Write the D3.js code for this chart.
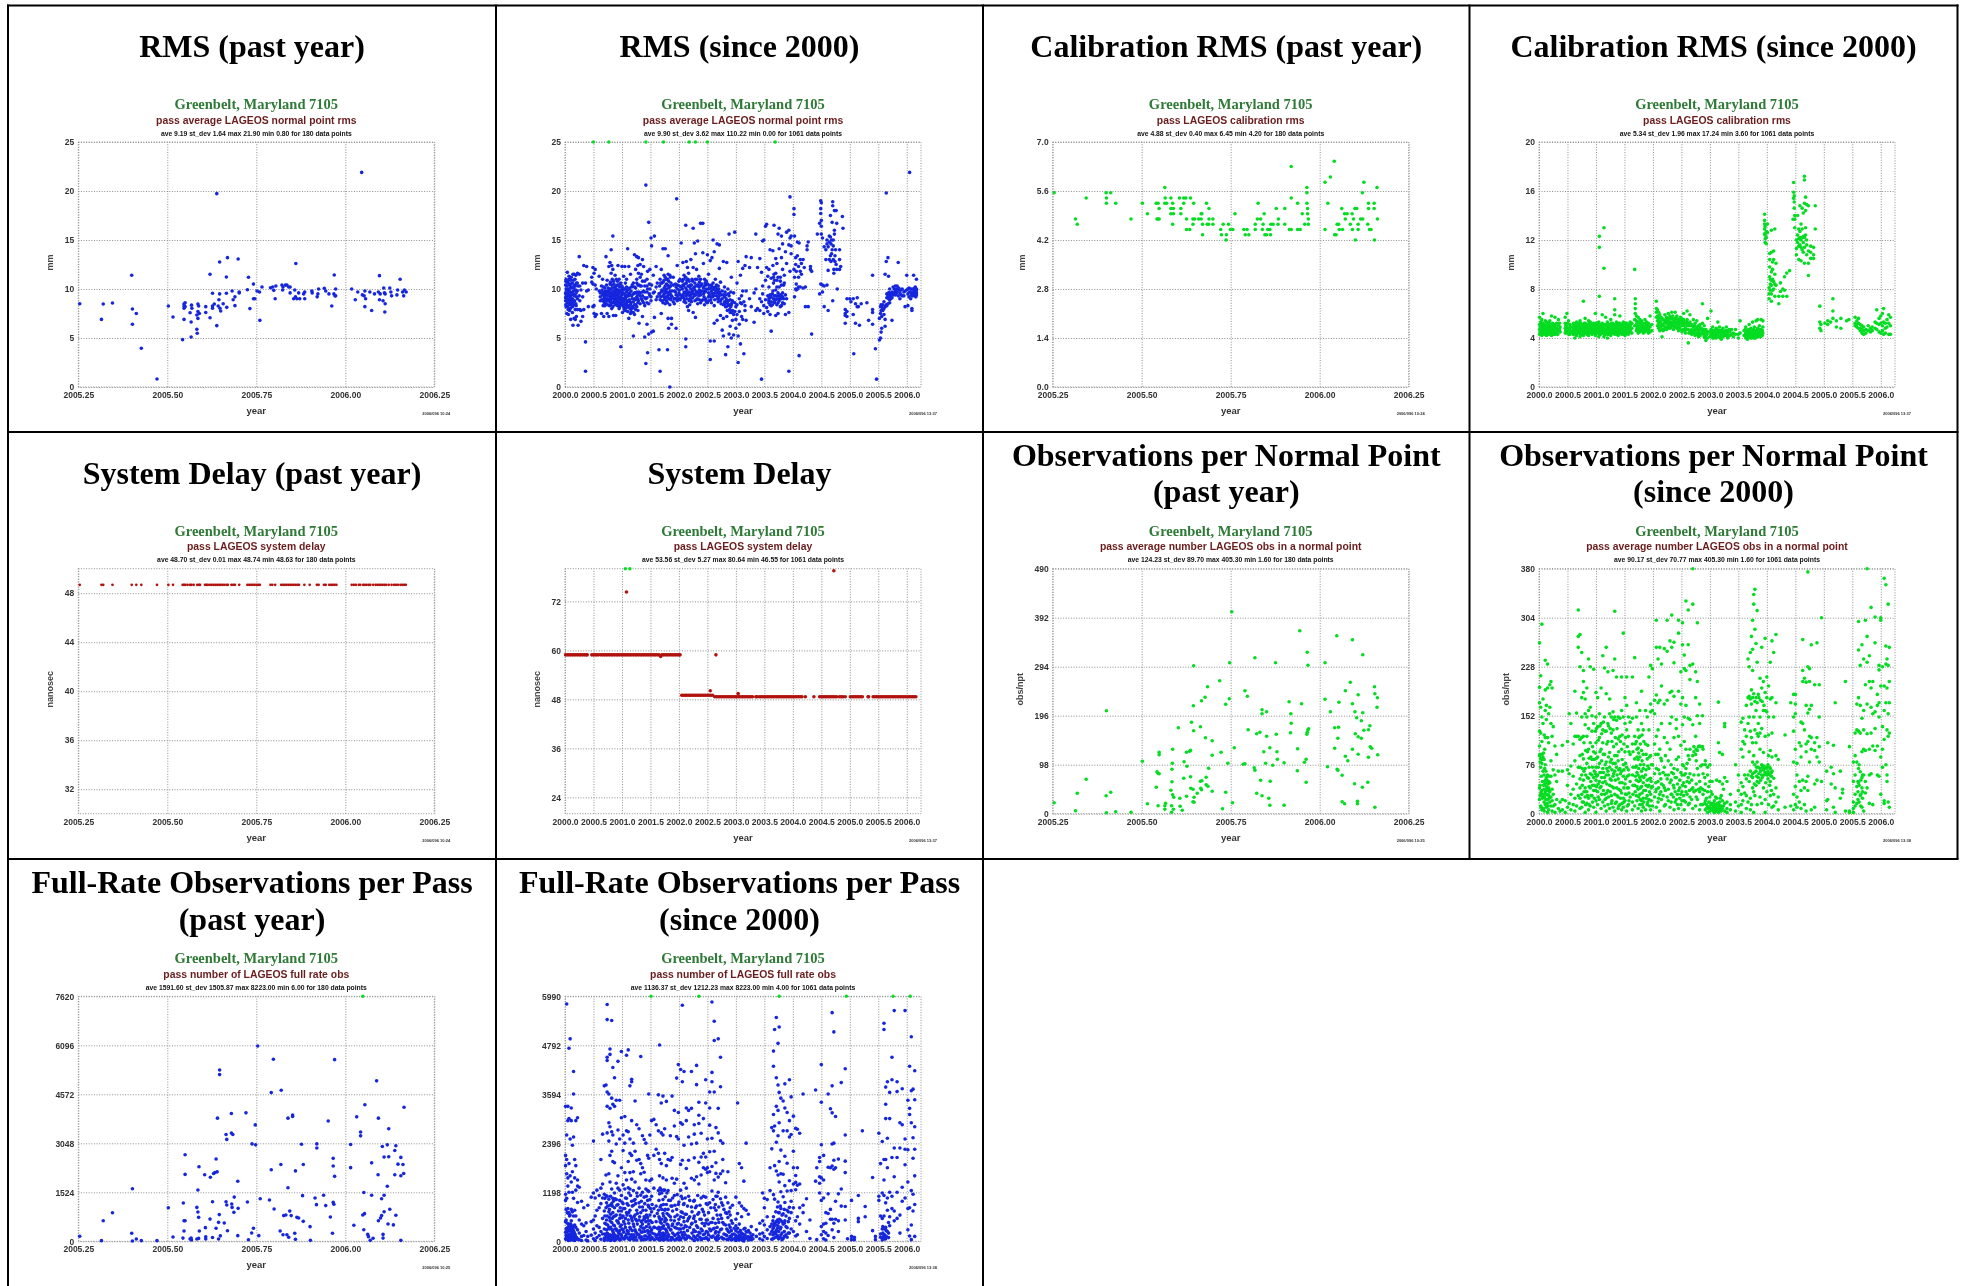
<!DOCTYPE html>
<html>
<head>
<meta charset="utf-8">
<script src="https://cdn.jsdelivr.net/npm/d3@7"></script>
<style>
  html, body { margin: 0; padding: 0; background: #fff; }
  svg { display: block; }
  .title { font-family: "Liberation Serif", serif; font-weight: bold; font-size: 32px; text-anchor: middle; fill: #000; filter: blur(0.35px); }
  .plot { filter: blur(0.7px); }
  .plot text { font-family: "Liberation Sans", Arial, sans-serif; }
  .grid line, .grid rect { stroke: #8f8f8f; stroke-width: 1; stroke-dasharray: 1 1.6; fill: none; }
  .grid path { display: none; }
</style>
</head>
<body>
<svg width="1965" height="1286"></svg>
<script>
// values: rows are [years after base, y, y, ...]
const pastBase = 2005;
const sinceBase = 2000;
const pastYearTicks = [2005.25, 2005.5, 2005.75, 2006, 2006.25];
const sinceTicks = [2000, 2000.5, 2001, 2001.5, 2002, 2002.5, 2003, 2003.5, 2004, 2004.5, 2005, 2005.5, 2006];

const rmsPast = [[.254,8.5],[.315,6.9],[.32,8.47],[.346,8.57],[.4,11.4],[.402,7.96,6.4],[.413,7.5],[.427,3.95],[.471,.82],[.503,8.27],[.516,7.14],[.543,4.83],[.547,6.9,8.47,8.27,8.03],[.55,8.6,8.2],[.564,7.58],[.567,6.63,5.1],[.568,8.35],[.569,8.03],[.583,5.9,7.35],[.584,5.48],[.586,7,8.47,7.7],[.588,8.27],[.59,7.5],[.608,7.6,8.2],[.62,7.07,11.5],[.627,9.56,8.27,8.03],[.632,8.47],[.639,6.26,19.73],[.643,8.27],[.645,8.9],[.647,9.5,12.76],[.648,8.03],[.65,7.76],[.657,8.5],[.666,11.22,9.56],[.667,8.13],[.669,13.2],[.682,9.8],[.685,8.9],[.69,9.2,8.3],[.699,13.06],[.702,9.7,9.6],[.725,9.93],[.728,11.2],[.732,8],[.742,10.5,9],[.746,9],[.752,9.8],[.759,9.7],[.76,6.8],[.766,10.2],[.79,10.13],[.796,10.2],[.799,9.86],[.803,9],[.805,10.3],[.822,10.4],[.824,9.9],[.825,10.2],[.832,10.4],[.836,10.4],[.841,10.2],[.845,10.2,9.6],[.855,9],[.858,9.9],[.86,9.2],[.861,12.6],[.864,9],[.869,9.6],[.872,9],[.883,9.5],[.886,9.7,9],[.906,9.8],[.907,9.6],[.921,9.2],[.923,9.5],[.925,10],[.941,10.07],[.945,9.8],[.954,9.5],[.962,8.27],[.968,9.5],[.969,11.43],[.971,9.3],[.973,10,9.3],[1.018,10],[1.028,8.9],[1.035,9.7],[1.046,21.9],[1.048,9.4],[1.053,9.3],[1.055,9.8,8.2],[1.057,9],[1.069,9.7],[1.074,7.8],[1.082,9.5],[1.093,9.7],[1.096,11.36,8.9],[1.098,9.5],[1.106,8.8],[1.108,10.1],[1.11,9.6],[1.111,7.65],[1.112,8.5,9.5],[1.125,10.1],[1.128,9.7],[1.13,9.3],[1.145,9.4],[1.147,9.9],[1.154,11],[1.161,9.7],[1.164,9.3],[1.166,9.9],[1.171,9.7]];

const rmsSince = [[.01,9.6,8.8,10.4,9.1],[.02,9.2,11,8.2,10],[.03,9.9,7.5,9.4],[.04,10.7,8.6,11.7,9],[.05,10,8.2,9.6],[.06,10.9,8.9,7.4,9.3],[.07,9.9,11.3,8.5],[.08,9.3,10.4,7.8,11],[.09,9,10.1,8.4],[.1,9.7,10.9,6.9,8.8],[.11,8.9,9.4,11.2],[.12,8.3,10.1,9.6],[.13,9,7.6,10.6],[.14,6.3,11.5,8.9],[.15,9.8,10.9,8.4],[.16,9.3,11.5,7],[.17,8.8,10.4],[.18,7.9,10.3,6.9],[.19,9.9,8.5,11.4],[.2,7.2,10.6,9.2],[.22,7.9,9,11.6],[.23,6.3,10.3],[.25,11.5,9.3,13.3],[.26,8.8,7.9,10.3],[.28,6.7,9.9,7.8],[.31,7.2,10.6,9.2],[.33,7.9,12.4],[.36,10.6,4.6,1.6],[.38,9.8,12.3],[.41,9.9,8.2],[.47,11.2,10.7],[.49,8.2,12.2,10.5],[.51,7.5,11.6,8.3],[.53,7.2,10.4,12],[.55,10,7.4],[.6,11.3,9.8],[.62,9.6,9.2,8.8],[.64,7.5,10.3],[.66,8.8,11,9.4],[.68,7.2,9,10.2],[.7,10.1,8.3,9.5],[.72,9.4,13.3,8.8],[.74,7.5,10.9,9],[.75,8.4,9.8,9.3],[.77,12.3,7.2,9.6],[.79,10.5,8.7,12.7],[.8,9.2,8.4,10],[.81,11.6,14,9.5],[.82,12.4,8,9],[.83,10.1,9.1,11],[.84,12,15.4,8.6],[.85,10.8,7.3,9.5],[.87,9.4,8.7,10.2],[.88,11.4,10,9],[.89,7.3,9.8,8.5],[.9,9,11,10.3],[.92,8.3,10.4,9.4],[.93,9.3,12.4,8.8],[.95,8,11,9.5],[.96,9.7,10.2,8.5],[.98,4.1,8.5,9.2],[1,10.3,9,12.3],[1.01,7.6,8.7,9.6],[1.03,11.3,8.2,9.9],[1.05,12.3,9.1,8.5],[1.06,10,7.8,9.3],[1.08,8.6,11,9.7],[1.1,14.1,9.4,8.3],[1.12,7,8.2,12.3],[1.13,10.1,8.9,9.5],[1.15,7.5,11.5,8.4],[1.17,9.3,8,10.2],[1.2,5.2,8.1,10.6],[1.22,13.5,7.4,9],[1.24,12,8.4,9.6],[1.26,13.3,10.6,9.2],[1.28,12.4,7.8,9],[1.29,11.6,13.2,8.8],[1.3,6.5,9.7,10.4],[1.32,12.5,8.5,9.3],[1.34,10.3,11.5,9],[1.36,7.2,9.3,13],[1.38,12.3,8.6,9.8],[1.4,5.1,8.3,10.3],[1.42,9,20.6,2.4],[1.44,6.4,9.1,11],[1.45,3.5,11.8,10],[1.47,16.8,8.5,5.4],[1.49,12,10,9.3],[1.51,15.2,9.2,8.8],[1.52,14.4,5.6,10.4],[1.55,5.7,11.4,9.6],[1.57,9.7,15.4,7.1],[1.6,10.2,12.3,8.9],[1.62,9.2,10.6],[1.65,3.8,9.5],[1.67,1.6,8.9,11],[1.68,10.6,9.2],[1.69,9.7,12,7.5],[1.72,14.1,9.3,8.6],[1.74,11.4,10.1,9.5],[1.76,8.5,14.1,9.8],[1.78,11,9.6,8.8],[1.8,3.8,10.4,9.2],[1.81,13.4,7,11.5],[1.82,9,6,10.8],[1.84,8.4,0,9.6],[1.85,11.2,9.8,10.3],[1.87,7,6.4,9.2],[1.9,10.4,8.7,11.2],[1.92,9,9.8,8.5],[1.95,6,10.2,9.4],[1.96,19.2,9],[1.97,12.4,10,8.8],[2,9.6,10.8,9],[2.02,11,9.4,8.9],[2.04,14.7,9.1,10.2],[2.07,10.4,12.7,9.4],[2.09,9.7,11.4,8.7],[2.12,16.5,8.6,4.9,4.1],[2.13,12.8,10.6,9.7],[2.15,8.2,9.5,12.2],[2.17,11.6,7.8,9.4],[2.19,10.2,9,8.4],[2.21,13,8.9,10],[2.23,9.7,11],[2.25,16.2,12.2,7.6],[2.27,9.3,14.7,10.2],[2.29,11,13.6,7.1],[2.31,9.7,12,8.9],[2.33,14.9,8.5,10.4],[2.35,9.3,10.2,11.3],[2.38,16.7,9.7,8.6],[2.42,16.7,13.7,8.9],[2.43,10.1,12.6,9.5],[2.45,8.4,11,9.8],[2.47,9.8,10.4,9],[2.5,13.5,8.6,10.5],[2.52,9.2,11.5,10],[2.55,2.8,4.7,12.9],[2.56,9.2,10.1,8.9],[2.58,10.1,13.2,9.6],[2.6,15,9.5,10.6],[2.62,13.8,8.3,6.5,4.7],[2.64,9.6,11,10.2],[2.67,14.6,6.8,10],[2.69,8.7,9.6,10.3],[2.71,14.5,12.1,9.5],[2.73,7.3,10.7,8.8],[2.76,5.8,9,9.8],[2.78,7,12.8,5.2],[2.8,10.2,8.7,9.2],[2.82,3.3,9.4,8.2],[2.84,12.7,7.2,8.8],[2.86,10,4.1,8.3],[2.88,5.4,15.6,9.3],[2.9,7.6,6.2,8.9],[2.92,5,11.2,8.4],[2.94,8.8,6.8,7.8],[2.96,5.3,9.6,7.4],[2.98,7.7,15.8,8.6],[3,6,8.2,6.9],[3.02,10.6,7.4,8.4],[3.04,12.8,2.5,5.2],[3.06,9,7.7,6.4],[3.08,11.4,4.4,8.6],[3.1,8.5,9.3,7.2],[3.12,9.8,12.1,6.9],[3.14,3.4,8.7],[3.16,12.4,8.3,7.8],[3.18,13.3,9.8,6.8],[3.24,12.2,9],[3.27,13.2,8.2],[3.32,6.6,9.6],[3.35,15.6,10,7.8],[3.38,12.2,8],[3.42,7.8,13.1,9],[3.45,8.7,.8,11.7],[3.47,10.3,14.9,9.5],[3.49,7.5,15,8.3],[3.52,16.4,8.9,10.9],[3.54,12.2,16.6,8.1],[3.56,9.3,11.3,7.7],[3.58,10.2,12,8.6],[3.6,9.1,14,7.4],[3.62,5.7,11.1,8.3],[3.65,9.8,12.4,13.9],[3.67,16.5,8.7,11.5],[3.7,9.3,13.1,7.3],[3.72,10.2,8.4,12.6],[3.74,9.6,15.6,7.5],[3.76,16.2,14.1,9],[3.78,11.2,9.4,8.2],[3.8,15.4,13.2,9.3],[3.82,12,14.6,9.2],[3.85,8.5,11.4,10.6],[3.87,13.8,9.4,7.4],[3.89,15.8,12.6,9],[3.93,1.6,16,14.5,7.6],[3.95,19.4,15.2,11.8],[3.97,13.6,14.4,15.4],[4.02,18.2,17.6,12],[4.03,15.4,11.2,9.2],[4.05,13.2,12.5,10],[4.06,11.8,10.5,9.9],[4.08,14.8,10,13.4],[4.1,12.3,11.2,10.2],[4.11,3.2,14.7],[4.13,13,10.2,11.8],[4.15,11.5,12.6],[4.18,13,10.1],[4.2,12.2],[4.22,10.2,8.2],[4.25,14.4,14],[4.27,14.8,8.2],[4.31,12.3,12],[4.33,5.4,11.8],[4.43,15.6],[4.47,16.7,9.5],[4.49,19,18.2,17.7,10.5],[4.5,18.8,17,16.4,15.6],[4.52,10.4,9.7,15.2],[4.55,14.3,8.2,10.3],[4.58,13,14],[4.6,15,10.4,14.6],[4.62,14.3,7.8,11.9],[4.64,14.8,13,15.4],[4.66,17.5,15.3,13.4],[4.67,14.6,12.8],[4.68,13.6,15],[4.69,16.8,14],[4.7,18.9,18.5,8.8],[4.71,15,14.4,13],[4.72,12,11.6],[4.73,18,16,15.6],[4.74,13.4,12.8],[4.75,14],[4.76,12.5,18],[4.77,16.7,12],[4.78,10],[4.82,13,12,14],[4.84,12.3],[4.87,17.4],[4.88,16.2],[4.92,7.3,7.5,7.9,6.5],[4.95,7.7,7.2,9],[5,9],[5.02,8.7],[5.06,7.4,9],[5.07,3.4],[5.1,6.5,8.5],[5.13,8.2,9.1],[5.15,8.2],[5.17,6.3],[5.2,8.5],[5.3,8.6],[5.33,6.8],[5.4,6.4,7.6,7.9,11.4],[5.45,3.9],[5.47,.8],[5.52,4.8,7],[5.54,5,7.5,8.2],[5.55,5.6,7.8,8.4],[5.56,6,8.2,7.2],[5.58,8.4,7.8,8],[5.6,8,7.4,8.7],[5.62,8.2,6.9,11.5,6.2],[5.64,19.8,12.8,8.4],[5.65,8.3,9.1,9.5],[5.67,13.2,8.5],[5.68,9.6,11.3,9],[5.7,9.3,10,9.6],[5.72,9,9.5],[5.74,6.8,9.7],[5.76,10.2,9.4],[5.78,9.6,10],[5.8,9.8,10.3,9.4],[5.83,9.7,10.3],[5.85,9.3,12.7],[5.88,9,9.6],[5.92,10,9.3],[5.95,9.3,9.7],[5.97,9.8,8.2],[6,9.9,11.4],[6.02,8.3,9.5,10],[6.05,9.7,21.9],[6.07,10,9],[6.09,9.5,8,7.8],[6.12,11.4,9.6],[6.13,9.8,9.3],[6.15,9.9,9.4,10.2],[6.16,9.7,9.2],[6.17,11,10,9.6]];
// extra passes in the solid part of the cloud
const rmsSinceCloud = [[.015,8.4,9.5,10.8],[.035,8.9,10.3],[.055,9.4,10.6,7.9],[.075,8.7,9.7],[.095,9.2,10.5,8],[.115,8.6,10.2],[.135,9.5,10.2,8.2],[.155,8.7,10.1],[.175,9.4,11],[.195,8.3,9.6],[.215,9.8,10.6],[.65,8.9,9.9],[.67,8.3,9.7],[.69,9.2,8.6],[.71,9,9.8,8.8],[.73,8.5,9.7,10.4],[.76,8.8,9.4,10.1],[.78,8.3,9,9.9],[.8,8.9,9.6,10.7],[.82,8.6,9.3,10.4],[.84,8.2,9.1,9.8],[.86,8.9,9.5,10.5],[.88,8.4,9.2,9.7],[.9,8.7,9.5,10],[.92,8.9,9.6,10.8],[.94,8.6,9.1,9.9],[.96,8.2,9,10.5],[.98,8.8,9.8,10.6],[1,8.4,9.4,10],[1.02,8.3,9,10.1],[1.04,7.9,8.8,9.5],[1.06,8.4,9,10.6],[1.08,8.1,9.2,10.2],[1.1,7.7,8.8,9.9],[1.12,8.7,9.3,10],[1.14,8,8.7,9.6],[1.16,7.7,8.6,9.8],[1.18,8.2,9,10.4],[1.2,7.6,8.7,9.5],[1.22,8.4,9.6,10.2],[1.24,7.9,8.9,10.1],[1.26,8.2,9.7,11],[1.28,8.6,9.4,10.4],[1.32,9.6,10.3,11.2],[1.36,8.8,9.7,10.8],[1.4,9.1,9.7,10.8],[1.44,8.6,9.7,10.3],[1.48,9.5,10.5],[1.66,9.5,10.3],[1.7,8.8,9.9,10.6],[1.72,9.8,10.7],[1.74,8.9,9.2,10.9],[1.76,9.1,10.3,11.2],[1.78,9.2,10,10.5],[1.8,8.6,9.7,11],[1.82,9.4,10.1],[1.84,9,10.2,11.4],[1.86,8.9,9.4,10.6],[1.88,9.2,9.8],[1.94,9,9.7,10.5],[1.98,9.3,10.4],[2.01,9.9,10.3],[2.06,9.3,10,10.8],[2.08,9.1,10.3,11],[2.1,8.9,9.6,10.5],[2.12,9.3,10.1,11.2],[2.14,9,9.9,10.9],[2.16,9.4,10.3,11],[2.18,8.8,9.7,10.8],[2.2,9.3,10.4],[2.22,9.5,10.4,8.7],[2.24,9.1,9.8,10.8],[2.26,9.5,10.1],[2.28,8.8,9.9,10.6],[2.3,9.4,10.3],[2.32,9,9.7,11],[2.34,9.6,10.4],[2.36,8.9,9.9,10.7],[2.38,9.4,10.3,11],[2.4,8.8,9.8,10.5],[2.44,9.2,10.3],[2.46,8.9,9.7,10.6],[2.48,8.7,10,10.8],[2.52,8.8,9.6,10.4],[2.54,9.4,10.1],[2.57,8.6,9.8,10.4],[2.59,9.2,10.2],[2.61,9.3,10],[2.63,8.9,9.9],[2.66,9.3,10.4],[2.68,9,9.8],[2.7,9.2,10],[2.72,8.9,9.7],[2.74,8.5,9.4],[2.78,8.4,9.4],[2.81,8.5,9.7],[2.83,8.2,9],[2.85,7.8,8.6],[2.87,8.8,9.5],[2.89,7.9,8.4],[2.91,8.2,9.7],[2.93,7.6,8.6],[3.58,9,8.8],[3.6,8.4,9.4],[3.62,9.2,8.7],[3.64,9.5,8.4],[3.66,9,10.6,11.2],[3.68,9.3,8.6,10.9],[3.7,8.9,9.9,11.6],[3.72,9,10.9],[3.74,8.6,9.3,11.2],[3.76,8.8,10.2],[3.78,9.1,10.8],[3.8,8.3,9,10.4],[3.82,8.6,9.6],[3.84,9,10.4],[5.67,9.1,9.4],[5.7,8.9,8.6],[5.74,9.1,9.4],[5.82,9.6,10],[5.86,9.9,10.1],[5.9,9.4,9.9],[6.04,9.2,10.1],[6.08,9.7,9.4],[6.1,9.3,10],[6.14,9.6,10.1],[6.17,9.4,9.9]];
const rmsSinceOver = [.5, .77, 1.42, 1.73, 2.18, 2.29, 2.5, 3.69];

const calPast = [[.254,5.55],[.314,4.8],[.319,4.65],[.344,5.4],[.4,5.55],[.401,5.4,5.25],[.413,5.55],[.427,5.25],[.47,4.8],[.502,5.25],[.516,4.95],[.541,5.25],[.546,5.25,4.8],[.543,4.8],[.549,4.8,5.1],[.565,5.7,5.25],[.566,5.4],[.57,5.25],[.582,5.4,5.1,4.95],[.587,5.25,4.65],[.589,5.1,4.95],[.606,5.4],[.61,5.1,4.95],[.618,5.25,5.4],[.624,5.4],[.637,5.4],[.626,4.8,4.5],[.635,4.5],[.644,4.8,4.65],[.646,5.25],[.649,4.8],[.66,4.8],[.667,4.8,4.95],[.671,4.65,4.35],[.669,4.95],[.682,5.25],[.689,5.1],[.684,4.65],[.688,4.65],[.689,4.8],[.7,4.8,4.65],[.722,4.5],[.724,4.35],[.729,4.65],[.738,4.35],[.737,4.2],[.744,4.65],[.749,4.5],[.756,4.5],[.762,4.95],[.787,4.5],[.791,4.35],[.796,4.5],[.801,4.35],[.819,4.65,4.5],[.827,5.25],[.825,4.8],[.834,4.8],[.841,4.65],[.839,4.5],[.844,4.95],[.846,4.35],[.851,4.35],[.854,4.5],[.86,4.5],[.862,4.35],[.863,4.65],[.869,4.65],[.878,5.1],[.883,4.65],[.884,4.8],[.902,5.1,4.65],[.915,4.5],[.92,4.5,6.3,5.4],[.938,5.25,4.5],[.945,4.5],[.951,4.95],[.958,4.65],[.964,5.7,5.55,5.25],[.966,5.1,4.95],[.968,4.8,4.65],[1.015,5.85,4.5],[1.023,5.25],[1.03,6],[1.041,6.45],[1.042,4.35],[1.046,4.35],[1.049,4.65],[1.053,4.65],[1.055,4.5],[1.062,5.1],[1.064,4.5],[1.07,4.95],[1.072,4.8],[1.077,4.95],[1.086,4.65],[1.091,4.95],[1.092,4.5],[1.095,4.8],[1.099,5.1],[1.104,5.1],[1.1,4.2],[1.108,4.65,4.5],[1.115,4.8],[1.121,4.8],[1.12,5.55],[1.124,5.85],[1.135,4.65],[1.137,5.25,5.1],[1.14,4.5],[1.144,4.5],[1.153,5.25,5.1],[1.154,4.2],[1.161,5.7],[1.162,4.8]];

const calSince = [[.01,4.3,4.7,5.1,5.7],[.03,4.5,4.9,5.3],[.05,4.2,4.6,5,5.5],[.07,4.4,4.8,5.2,6],[.09,4.3,4.7,5.1],[.11,4.5,4.9,5.4],[.13,4.2,4.6,5,5.3],[.15,4.4,4.8,5.2],[.17,4.3,4.7,5.1],[.19,4.5,4.9,5.4],[.22,4.2,4.6,5,5.8],[.24,4.4,4.8,5.2],[.26,4.3,4.7,5.1],[.28,4.5,4.9,5.7],[.31,4.4,4.8,5.2],[.34,4.6,5,5.5],[.37,4.5,4.9],[.46,4.4,4.8,5.2,5.7],[.49,4.6,5,6],[.52,4.3,4.7,5.4],[.55,4.5,4.9],[.6,4.3,4.7,5.1],[.63,4,4.5,4.9],[.66,4.2,4.6,5,5.3],[.69,4.4,4.8,5.2],[.72,4.1,4.5,4.9,5.4],[.75,4.3,4.7,5.1],[.78,4.2,4.6,5,7],[.81,4.4,4.8,5.2,5.6],[.84,4.3,4.7,5.1],[.87,4.2,4.6,5,5.4],[.9,4.5,4.9,5.3],[.93,4.3,4.7,5.1],[.96,4.4,4.8,5.2],[.99,4.2,4.6,5,6],[1.02,4.4,4.8,5.2],[1.05,4.1,4.5,4.9,5.3],[1.06,11.4,12.3,7.4],[1.08,4.3,4.7,5.1],[1.11,4.4,4.8,5.2,5.9],[1.14,4.1,4.5,4.9,13,9.7],[1.17,4.3,4.7,5.1,5.7],[1.2,4,4.5,4.9,5.3],[1.23,4.3,4.7,5.1],[1.26,4.2,4.6,5,5.5],[1.29,4.4,4.8,5.2],[1.33,4.3,4.7,5.1,6.3,7.2,5.9],[1.36,4.5,4.9,5.3],[1.39,4.2,4.6,5],[1.42,4.4,4.8,5.2,5.8],[1.45,4.3,4.7,5.1],[1.48,4.5,4.9,5.3],[1.51,4.2,4.6,5],[1.54,4.4,4.8,5.2],[1.57,4.3,4.7,5.1],[1.6,4.5,4.9,5.3],[1.63,4.4,4.8,5.2],[1.68,9.6,5,5.5],[1.69,7.2,6.8,6.4,6],[1.71,4.6,5,5.4,5.8],[1.74,4.4,4.8,5.3,5.7],[1.77,4.5,4.9,5.5],[1.8,4.6,5,5.4],[1.83,4.4,4.8,5.2],[1.86,4.5,4.9,5.5],[1.89,4.6,5,5.3],[1.92,4.4,4.8,5.2],[1.95,4.5,4.9,5.8],[1.98,4.6,5.1],[2.06,7,6.4,6.1,5.7],[2.08,6.3,5.8,5.4,5],[2.1,6.1,5.6,5.2,4.8],[2.12,5.9,5.4,5,4.6],[2.14,5.7,5.3,4.9],[2.16,5.6,5.1,4.7,4.1],[2.18,5.5,5,4.6],[2.21,5.4,5.9,4.9],[2.24,5.7,5.2,4.7],[2.27,6,5.5,5],[2.3,5.8,5.3,4.8],[2.33,6.1,5.6,5.1],[2.36,5.5,5,4.7],[2.39,6.1,5.6,5.2],[2.42,5.8,5.3,4.8],[2.45,5.5,5.1,4.6],[2.48,5.7,5.2,4.7],[2.51,5.4,5,4.5],[2.54,6,5.5,5],[2.57,5.3,4.8,4.4],[2.6,6.2,5.5,5],[2.62,3.6,4.7,5.2],[2.65,5.9,5.3,4.6],[2.68,5.1,4.7,4.3],[2.71,5.5,4.9,4.4],[2.74,5.2,4.7,4.2],[2.77,5.4,4.9,4.4],[2.8,5,4.5,4.1],[2.83,5.1,4.7,4.2],[2.87,6.8,5.2,4.6],[2.9,5,4.5,4.1],[2.93,4.7,4.2,3.8],[2.96,5.6,4.5,4],[3.02,6.2,4.7,4.3],[3.05,4.9,4.4,4],[3.08,4.6,4.2],[3.11,4.8,4.3,4],[3.14,5.3,4.5,4.1],[3.17,4.9,4.4],[3.2,4.6,4.2,3.9],[3.23,4.8,4.4,4.1],[3.26,4.5,4.2],[3.29,4.9,4.4],[3.32,4.6,4.1],[3.35,4.5,4.2],[3.38,4.7,4.3],[3.41,4.4,4.1],[3.45,4.7,4.3],[3.5,4.3,4],[3.53,5.4,4.4],[3.6,4.6,4.2],[3.63,4.9,4.4,4],[3.66,4.6,4.2,3.9],[3.69,5.1,4.5,4.1],[3.72,4.8,4.3,4],[3.75,5.3,4.6,4.2],[3.78,4.9,4.4,4],[3.81,5.4,4.6,4.2],[3.84,5.5,4.8,4.3],[3.87,5,4.5,4.1],[3.9,5.5,4.7,4.3],[3.93,5.4,4.9,4.4],[3.96,14.1,13.6,13.3,12.9,12.5],[3.97,12.1,11.8,13.1,12.4],[3.99,11.7,12.7,12.2],[4.01,13.3,12.6],[4.04,8.1,7.6,7.2],[4.05,10.9,10.4,9.8,9],[4.06,8.8,8.4,7.9],[4.08,12.8,11,9.4,8.7,8.3,7.6,7],[4.1,10.2,9.6,8.8,7.9],[4.12,11.1,10.4,8.6,8],[4.14,12.9,9.2,8.4,7.4],[4.16,10.1,8.3],[4.21,7.4,6.8],[4.24,8.5,7.8],[4.28,8,7.4],[4.31,9,7.9],[4.35,9.3,7.4],[4.4,9.5],[4.46,13.7],[4.47,16.7,15.9,15.4],[4.48,15.6,15.1,14.6],[4.49,14,13.7,13],[4.52,10.8,12,11.3],[4.54,14,12.4,11.8],[4.56,12.9,12.1,11.5,10.4],[4.58,14.8,12.7,12.2,11.6],[4.6,13.3,12,11.4,10.3],[4.62,14.6,12.9,12.2,11.2],[4.64,14.2,12.3,11.8,11],[4.66,17.2,16.9,15,12.2,11.4,10.1],[4.68,15.5,14.4,13,12.4],[4.7,14.9,12,11.6,10.8],[4.73,14.8,11.1,9.1,10.1],[4.77,11.5,11,10.5],[4.82,11.4,10.8,10.5],[4.85,14.8,12.9],[4.93,6.6,5.3,4.8],[4.95,5.1,4.6],[5.02,5.2],[5.07,5.4,5.1],[5.12,5.3],[5.16,7.2,6.2,5.6],[5.22,5.4,4.9],[5.3,4.8,5.6],[5.4,5.4],[5.44,5.5],[5.55,5.2,5,5.7],[5.58,5.4,5.1,4.9],[5.61,5.6,5.2,4.8],[5.64,5.1,4.8,4.6],[5.67,5,4.7,4.4],[5.7,4.9,4.6,4.3],[5.74,4.7,4.4],[5.78,5,4.6],[5.82,4.8,4.5],[5.85,4.9,4.6],[5.9,5.3,4.8],[5.93,6.3,5.2,4.7],[5.97,5.6,5.1,4.5],[6,5.8,5.2,4.4],[6.03,6,5,4.6],[6.05,6.4,5.3,4.3],[6.08,5.2,4.8,4.4],[6.11,5.5,4.9],[6.14,5.9,5.2,4.3],[6.17,5.7,5,4.3]];
const calSinceBand = [[.02,4.5,4.9],[.06,4.4,4.8,5.2],[.1,4.5,4.9],[.14,4.4,4.8],[.18,4.5,4.9,5.2],[.21,4.4,4.8],[.25,4.5,4.9],[.29,4.3,4.7,5.1],[.33,4.3,4.7],[.36,4.7,5.2],[.47,4.6,5],[.5,4.4,4.8,5.2],[.54,4.3,4.7,5.1],[.58,4.5,4.9],[.61,4.5,4.9,5.2],[.64,4.3,4.7,5.1],[.67,4.4,4.8],[.7,4.6,5],[.73,4.3,4.7,5.2],[.76,4.5,4.9],[.79,4.4,4.8,5.2],[.82,4.6,5],[.85,4.5,4.9],[.88,4.4,4.8,5.2],[.91,4.7,5.1],[.94,4.5,4.9],[.97,4.6,5],[1,4.4,4.8,5.2],[1.03,4.6,5],[1.06,4.3,4.7,5.1],[1.09,4.5,4.9],[1.12,4.6,5],[1.15,4.3,4.7,5.1],[1.18,4.5,4.9],[1.21,4.3,4.7,5.1],[1.24,4.5,4.9],[1.27,4.4,4.8,5.2],[1.3,4.6,5],[1.34,4.5,4.9],[1.37,4.3,4.7,5.1],[1.4,4.4,4.8,5.2],[1.43,4.6,5],[1.46,4.5,4.9],[1.49,4.3,4.7,5.1],[1.52,4.4,4.8,5.2],[1.55,4.6,5],[1.58,4.5,4.9],[1.61,4.7,5.1],[1.72,4.8,5.2],[1.75,4.6,5],[1.78,4.7,5.2],[1.81,4.8,5.2],[1.84,4.6,5],[1.87,4.7,5.2],[1.9,4.8,5.2],[1.93,4.6,5],[2.2,5.2,4.7],[2.23,5.5,4.9],[2.26,5.3,4.8],[2.29,5.6,5.1],[2.32,5.3,4.9],[2.35,5.8,5.2],[2.38,5.4,4.9],[2.41,5.6,5],[2.44,5.3,4.8],[2.47,5.4,4.9],[2.5,5.6,5.2],[2.53,5.2,4.7],[2.56,5.1,4.6],[2.59,5.3,4.7],[2.63,5,4.4],[2.66,5,4.5],[2.7,5,4.6],[2.73,5,4.5],[2.76,4.7,4.3],[2.79,4.7,4.3],[2.82,4.9,4.4],[2.85,4.8,4.4],[2.89,4.7,4.3],[2.92,4.5,4],[2.95,4.3],[3,4.5,4.1],[3.04,4.6,4.2],[3.07,4.4,4],[3.1,4.5,4.1],[3.13,4.7,4.3],[3.16,4.6,4.1],[3.19,4.4,4],[3.22,4.6,4.2],[3.25,4.3],[3.28,4.6,4.2],[3.31,4.3,4],[3.34,4.7],[3.62,4.7,4.3],[3.65,4.4,4.1],[3.68,4.7,4.3],[3.71,4.5,4.1],[3.74,4.4,4],[3.77,4.7,4.2],[3.8,4.4,4],[3.83,4.5,4.1],[3.86,4.7,4.3],[3.89,4.4,4.1],[3.92,4.6,4.2]];

const sysDelayPastX = [.254,.315,.32,.346,.4,.413,.427,.471,.503,.516,.543,.547,.551,.557,.564,.568,.574,.584,.589,.592,.606,.61,.614,.62,.625,.63,.635,.64,.645,.65,.655,.66,.666,.67,.68,.685,.69,.702,.725,.73,.735,.74,.745,.75,.755,.76,.79,.795,.803,.82,.825,.83,.835,.84,.845,.85,.855,.86,.865,.87,.885,.9,.92,.925,.94,.945,.955,.96,.965,.97,.975,1.018,1.024,1.03,1.038,1.042,1.05,1.055,1.06,1.066,1.07,1.078,1.085,1.09,1.095,1.1,1.105,1.11,1.115,1.122,1.13,1.137,1.142,1.148,1.155,1.16,1.165,1.17];
const sysDelayPastLevel = 48.68;

const sysDelayHighX = [.01,.04,.07,.1,.13,.16,.19,.22,.25,.28,.31,.34,.37,.39,.47,.5,.53,.56,.59,.63,.66,.69,.72,.75,.78,.81,.84,.87,.9,.93,.96,.99,1.02,1.05,1.08,1.11,1.14,1.17,1.2,1.23,1.26,1.29,1.32,1.35,1.38,1.41,1.44,1.47,1.5,1.53,1.56,1.59,1.62,1.65,1.7,1.73,1.76,1.79,1.82,1.85,1.88,1.91,1.94,1.97,2,2.02];
const sysDelayHighLevel = 58.9;
const sysDelayMidX = [2.05,2.08,2.11,2.14,2.17,2.2,2.23,2.26,2.29,2.32,2.35,2.38,2.41,2.44,2.47,2.5,2.53,2.56,2.59];
const sysDelayMidLevel = 49;
const sysDelayLowX = [2.63,2.66,2.69,2.72,2.75,2.78,2.81,2.84,2.87,2.9,2.93,2.96,2.99,3.02,3.05,3.08,3.11,3.14,3.17,3.2,3.23,3.26,3.29,3.35,3.37,3.41,3.44,3.47,3.5,3.53,3.56,3.59,3.62,3.65,3.68,3.71,3.74,3.77,3.8,3.83,3.86,3.89,3.92,3.95,3.98,4.01,4.04,4.07,4.1,4.13,4.16,4.22,4.37,4.47,4.5,4.53,4.56,4.59,4.62,4.65,4.68,4.71,4.74,4.77,4.82,4.85,4.88,4.92,5.01,5.04,5.07,5.1,5.13,5.16,5.19,5.22,5.32,5.33,5.41,5.44,5.47,5.5,5.53,5.56,5.59,5.62,5.65,5.68,5.71,5.74,5.77,5.8,5.83,5.86,5.89,5.92,5.95,5.98,6.01,6.04,6.07,6.1,6.13,6.16];
const sysDelayLowLevel = 48.65;
const sysDelayOutliers = [[1.08,74.3],[1.68,58.5],[2.55,50.1],[2.65,58.9],[3.04,49.4],[4.72,79.5]];
const sysDelayOver = [1.06, 1.14];

const obsPast = [[.254,22],[.314,6],[.319,41],[.344,69],[.4,36],[.401,206,2],[.413,43],[.427,4],[.47,3],[.502,105],[.516,20],[.541,53],[.546,16,81],[.543,84],[.549,80,123,118],[.565,16,9],[.567,21],[.582,47],[.584,16,3],[.585,89,64],[.586,101],[.587,38,129],[.589,9],[.59,33],[.603,172],[.607,31],[.608,15],[.614,7],[.618,71],[.619,104],[.626,35,123],[.627,95],[.635,125],[.637,127,74],[.638,51],[.64,183],[.644,49,24],[.645,216],[.646,166,296],[.647,23,33],[.656,41],[.665,65,174],[.666,51],[.668,226,48],[.669,66],[.678,233],[.679,152],[.681,73,58],[.685,254],[.686,55],[.688,91],[.698,45,146,117],[.719,266],[.723,123],[.727,10],[.736,219,43],[.742,101],[.746,230],[.747,302],[.753,404],[.755,22],[.76,132],[.785,99],[.79,100,246],[.797,235],[.799,168],[.816,92],[.818,87,312],[.823,41,160],[.832,163],[.834,67],[.838,36,208,200],[.843,124],[.848,101],[.851,204,155],[.857,31],[.86,17,132],[.861,65],[.868,97],[.876,302],[.878,159],[.88,124],[.881,109],[.9,102,17],[.914,224],[.918,162],[.919,200],[.92,181],[.937,86],[.938,130],[.944,366],[.949,220],[.957,103],[.962,109,63],[.964,159],[.965,323,163],[.967,297,168],[.969,170],[1.015,302,229],[1.022,94],[1.03,204],[1.042,131,172],[1.048,356],[1.049,89],[1.051,87,151],[1.053,173],[1.054,223],[1.063,77,24],[1.07,20],[1.072,115,246],[1.079,106],[1.086,263],[1.092,348,220,129],[1.098,60],[1.099,204],[1.1,160],[1.104,192],[1.106,25,20],[1.108,154,238,119],[1.117,186,151],[1.12,53],[1.121,318,202],[1.124,167],[1.135,63],[1.137,168,113],[1.141,176],[1.142,134],[1.146,131],[1.154,254],[1.155,240,13],[1.161,213],[1.162,232],[1.163,118]];

const obsSince = [[.01,265,196,172,128,105,90,40,22],[.03,214,165,125,85,72,30,12],[.05,294,150,112,92,78,36,6],[.07,178,140,88,66,26],[.09,122,84,60,38,18,4],[.11,238,192,160,118,76,52,34,14],[.13,168,146,56,42,30,10],[.15,232,195,118,60,36,22,2],[.17,155,110,50,40,28,6],[.19,200,165,48,34,18],[.21,205,140,82,58,26,12],[.23,195,120,38,20,4],[.25,135,68,30,12],[.28,105,60,14,2],[.31,92,50,22],[.34,66,8],[.37,18,4],[.41,106,66,22,6],[.46,20,2],[.5,112,68,44,10],[.53,155,62,16],[.56,140,74,30,6],[.6,108,58,38,14],[.63,190,120,82,24,4],[.66,156,120,46,12],[.69,316,275,258,120,72,28],[.72,278,228,115,72,40,8],[.75,250,180,150,118,60,30,10],[.78,222,205,188,120,85,52,18],[.81,178,155,138,70,40,26,2],[.84,195,150,120,78,34,16],[.87,240,160,132,100,55,24,6],[.9,228,165,110,62,40,12],[.93,152,128,84,60,28],[.96,224,140,96,56,36,10],[1,188,150,110,72,52,20,2],[1.03,180,135,88,60,34,14],[1.06,155,118,78,50,22],[1.09,195,140,100,64,42,8],[1.12,245,130,110,70,48,18],[1.15,226,150,92,56,30,12],[1.18,258,186,128,80,60,24,4],[1.21,220,140,112,66,36,14],[1.24,178,155,95,72,44,8],[1.27,150,125,84,52,28,16],[1.3,222,158,130,78,58,10],[1.33,314,240,150,90,66,30,4],[1.36,212,145,108,72,40,18],[1.39,150,116,82,54,26,8],[1.42,148,120,70,48,14],[1.45,212,160,100,66,32,6],[1.48,280,150,76,58,24,10],[1.51,180,140,96,46,20],[1.54,212,168,130,72,30,4],[1.57,150,120,68,40,14],[1.6,142,92,50,26],[1.64,212,148,108,60,18,6],[1.68,242,120,85,44,12],[1.71,172,150,112,74,52,28],[1.74,130,102,84,60,38,8],[1.77,160,120,88,56,30,14],[1.8,190,140,98,66,42,20,4],[1.83,130,92,70,48,24,10],[1.87,160,108,60,36,6],[1.9,150,85,52,28,14],[1.93,212,130,70,44,22],[1.96,230,170,158,90,55,30,6],[1.99,225,160,76,42,12],[2.03,176,155,108,62,26],[2.06,300,258,184,120,70,38,10],[2.09,240,172,130,92,50,18],[2.12,258,176,100,62,30,4],[2.15,232,198,140,82,46,22],[2.2,256,170,118,72,40,12],[2.25,300,252,176,110,54,26],[2.3,268,188,140,100,48,10],[2.33,308,258,190,150,64,30],[2.37,266,234,182,118,70,40,6],[2.41,146,132,84,56,22],[2.45,300,280,190,120,88,36,8],[2.49,220,170,106,64,30,14],[2.52,296,262,180,138,76,44],[2.55,246,225,150,112,60,20,6],[2.58,330,222,168,100,70,34],[2.62,316,262,148,90,56,14],[2.65,230,208,146,100,62,26],[2.7,380,325,232,138,90,40,8],[2.75,220,180,120,92,36,12],[2.78,296,205,152,98,70,22],[2.82,170,140,105,50,34,6],[2.87,152,104,76,38,14],[2.92,82,76,46,20,6],[2.96,72,60,34,10,2],[3,76,50,26,12,4],[3.04,50,30,14,6],[3.08,20,12,6,2],[3.12,52,24,10,4],[3.15,173,110,14,8,2],[3.17,95,50,18,6],[3.2,28,12,4],[3.22,92,46,20,8],[3.26,140,135,56,16,4],[3.3,50,18,8,2],[3.36,30,14,6],[3.45,76,18,4],[3.5,60,36,12],[3.55,142,100,48,30,14,2],[3.58,148,112,88,42,20],[3.61,130,108,60,32],[3.64,168,120,54,28,8],[3.67,240,180,140,60,18],[3.69,228,182,150,96,50],[3.71,250,178,128,66,24,6],[3.73,275,192,170,118,58,14],[3.75,300,255,222,180,110,62],[3.77,340,325,186,150,90,34,2],[3.79,348,286,174,130,76,28],[3.81,264,180,160,110,66,44],[3.83,315,235,172,124,80,50,14],[3.85,185,140,120,72,56],[3.88,210,150,125,100,70,26],[3.91,258,195,132,76,60,16],[3.94,205,160,95,68,40],[3.97,272,188,160,120,64,22,2],[4,212,180,158,72,60,34],[4.03,198,150,122,90,62,14],[4.06,235,178,98,70,50,28],[4.09,268,180,125,88,66,10],[4.12,250,150,55,30,12],[4.16,278,172,90,40,18],[4.2,84,26,6],[4.32,122,10],[4.42,172,12],[4.47,185,150,128,80,30,6],[4.5,185,170,155,100,42,14],[4.53,78,60,26,10],[4.57,110,50,18],[4.6,142,105,88,36,8],[4.63,270,222,205,140,52],[4.66,210,130,40,14],[4.69,204,168,108,96,50,4],[4.72,375,228,156,112,58,36],[4.75,225,205,162,120,80],[4.78,262,168,118,100,6],[4.84,200,110,98,46,10],[4.88,265,118,88,52],[4.92,200,150,104,80],[4.96,304,50],[5.05,66,20,6],[5.07,110,22],[5.13,72,46],[5.17,106,62,10],[5.2,172,40,2],[5.29,66,24],[5.33,38,32],[5.38,205,4],[5.45,104,4,2],[5.52,80,50,18,8,2],[5.55,125,90,60,30,12],[5.58,170,130,80,42,16],[5.61,298,254,180,128,70,48],[5.64,230,168,125,65,28],[5.67,262,148,96,56,40,10],[5.7,240,160,130,100,60,4],[5.73,300,200,98,50,32],[5.76,380,275,235,170,124,40],[5.8,245,205,100,60,16],[5.83,320,195,165,125,62],[5.86,205,155,105,14],[5.9,305,265,158,132,98],[5.94,185,168,105,60],[5.97,223,230,172,150,58],[6,304,300,198,88,30],[6.03,228,135,100,72],[6.06,365,198,160,115,20,16],[6.09,355,260,232,172,76],[6.11,240,195,130,60,50],[6.13,325,230,155,120,18],[6.15,258,205,172,125,10]];
// extra passes where the lower part of the panel is packed
const obsSinceDense = [[.02,92,80,44,28],[.04,86,58,34,10],[.06,84,50,24],[.08,94,44,30,8],[.1,100,70,46,26],[.12,66,48,22],[.14,52,38,16],[.16,46,30,12],[.18,58,36,24],[.72,90,54,24],[.76,92,70,44,18],[.79,110,66,34],[.82,98,60,34,14],[.85,96,56,28],[.88,86,72,42,14],[.91,88,50,28],[.94,104,72,44,18],[.97,84,66,44,24],[.99,128,94,62,36],[1.01,132,86,58,42],[1.04,114,72,46,26],[1.07,136,96,64,40],[1.1,124,82,56,30],[1.13,142,92,64,36],[1.16,128,76,50,22],[1.19,108,70,46,32],[1.22,136,88,60,26],[1.25,132,80,54,34],[1.28,112,68,42,20],[1.31,146,104,62,40],[1.34,118,78,52,16],[1.37,132,90,60,28],[1.4,96,68,38,12],[1.43,112,62,36,24],[1.46,122,84,48,16],[1.49,108,68,40,18],[1.52,118,78,54,30],[1.55,104,58,40,12],[1.58,96,60,32,20],[1.65,96,72,44,30],[1.69,108,72,58,34],[1.72,100,88,64,42,20],[1.75,118,94,70,50,26],[1.78,108,76,52,40,22],[1.81,122,82,58,32,14],[1.84,112,76,56,36,18],[1.88,92,68,44,24],[1.91,106,74,42,18],[1.94,88,54,34,12],[1.97,76,50,40,20],[2.05,92,48,34],[2.1,68,40,24],[2.14,86,54,34],[2.18,64,44,28],[2.22,90,60,36,14],[2.27,82,60,38,20],[2.32,76,52,30,18],[2.36,62,44,26],[2.39,56,34,18],[2.43,68,46,30,14],[2.47,52,40,24],[2.51,60,34,20],[2.54,74,48,28],[2.57,62,42,18],[2.6,78,50,30],[2.64,84,48,36,16],[2.68,52,38,22],[2.72,104,96,60,34],[2.76,100,82,46,26],[2.8,104,60,38],[2.84,104,74,40,14],[2.88,100,62,30],[2.91,56,36,16],[2.94,24,14,8],[2.98,42,18,8],[3.02,34,16,8],[3.06,16,10,4],[3.1,26,14,6],[3.13,16,10,6],[3.18,24,12,8],[3.24,38,12],[3.75,80,56,40],[3.78,64,46],[3.82,72,58],[3.86,180,62,48],[3.89,176,66,52],[3.92,174,72,56],[3.95,168,74,60],[3.98,70,62,48],[4.02,76,66,54],[4.05,72,60,44],[4.08,64,58,36],[5.6,50,34,22],[5.62,76,44,18],[5.65,52,30,12],[5.68,60,34,24]];

const fullPast = [[.254,155],[.315,20],[.32,640],[.346,890],[.4,250],[.402,1635,10],[.413,70],[.427,20],[.471,20],[.503,1045],[.516,135],[.544,100],[.545,1190],[.547,640,320],[.55,640,2690,2080],[.564,70],[.567,100],[.568,40],[.583,1055,70],[.586,1595,910],[.588,745,90],[.589,2320],[.59,320],[.605,2070],[.607,425],[.608,70,140],[.62,690],[.621,1990],[.627,1230,120],[.63,2110],[.634,2140],[.637,2560,405],[.64,2160],[.641,3830],[.644,590,70],[.646,830],[.647,5330,5185],[.649,170],[.66,570],[.665,3320,1230],[.667,3170,1130],[.669,330],[.68,3975,3365],[.681,1160],[.682,1055],[.684,3320],[.687,900],[.688,1375],[.698,1870,175],[.699,1025],[.721,3995],[.725,1220],[.728,50],[.737,260],[.738,3030],[.742,405],[.747,3620],[.748,3000],[.754,6075],[.757,175],[.761,1325],[.787,1285],[.792,2225,4625],[.798,5660],[.8,1005],[.817,320],[.819,2390],[.82,4700],[.825,205],[.827,800],[.833,820],[.836,205],[.839,3830,1665],[.841,125],[.844,940],[.848,800],[.852,3930,3880],[.858,250],[.86,60,2190],[.864,745],[.869,725],[.877,3020],[.88,1420],[.882,2390,620],[.901,455],[.902,30],[.915,1345],[.919,1140],[.92,3030,2900],[.939,1430],[.945,1110],[.952,3740],[.958,755],[.964,250],[.966,1210,2580,2340],[.968,1150],[.97,2020,5650],[1.015,3010,2290],[1.024,500],[1.032,3870],[1.043,3400,3280],[1.049,820],[1.052,1520,360],[1.054,860],[1.055,4245],[1.063,215],[1.065,145],[1.07,30],[1.074,2440,1430],[1.078,95],[1.088,4990],[1.092,2070],[1.093,3830,640],[1.099,725],[1.102,1325,800],[1.104,2950],[1.106,215,100],[1.109,2620,920,1430],[1.118,3000,1710],[1.12,540],[1.122,3500,2630],[1.125,995],[1.135,510],[1.139,2825,2070],[1.142,2970,810],[1.148,2400],[1.156,2610,2040,30],[1.162,2390],[1.164,2110],[1.165,4170]];
const fullPastOver = [1.049];

const fullSince = [[.01,3300,2100,1850,1150,1000,480,220,60],[.03,5800,2600,2000,1650,1050,320,120],[.05,3300,2950,1550,1350,800,260,40],[.07,4720,3000,1900,1200,700,420,160],[.09,4950,2500,1600,640,340,90],[.11,3260,2950,1450,780,500,220,30],[.13,2350,1700,1200,720,300,150],[.15,4150,3600,2550,1050,620,260,70],[.17,2000,1550,760,400,180,20],[.19,2950,1850,1250,620,340,100],[.22,3020,1500,1350,950,280,60],[.25,1320,520,200,40],[.29,980,420,120,20],[.33,820,380,140],[.37,450,240,30],[.4,880,120,10],[.46,1080,480,150],[.5,2450,1180,520,300,60],[.53,1060,620,200,20],[.56,1250,760,380,90],[.6,1120,820,340,140],[.63,2000,1300,920,240,50],[.66,2620,1400,1060,560,180],[.69,3800,1150,740,300,80,20],[.72,3820,1620,1120,820,420,140],[.74,5790,5420,4500,4420,3650,3300,2650,1100,620,200],[.77,3600,2900,2450,1650,1030,720,340,60],[.79,4700,4570,3250,2800,2100,1450,880,500,160],[.82,5400,3500,2680,2200,1280,920,460,40],[.84,4250,3350,2600,1950,1050,700,240,110],[.87,4000,3300,1920,1180,820,380,160,20],[.9,3450,2380,1420,1020,640,300,50],[.93,4400,2720,1600,1300,900,480,120],[.96,3450,2500,1250,1000,560,260,30],[.99,4640,3020,1800,1120,740,400,150],[1.02,2600,2220,1380,920,620,280],[1.05,3050,2400,1680,1280,800,420,60],[1.08,4550,2700,1500,1050,700,180],[1.11,4680,2680,1950,1310,880,520,240],[1.14,3800,2500,2150,1680,1280,760,340,40],[1.17,3960,3900,2950,2100,1520,980,560,160],[1.2,2400,1700,1240,880,420,90],[1.23,3430,2200,1450,1020,640,280],[1.26,2850,1980,1180,760,500,200,30],[1.3,2750,2000,1300,940,520,160],[1.33,4520,1900,1650,1130,700,360,80],[1.36,2580,1800,1200,840,420,230],[1.39,2490,1690,1080,600,320,40],[1.42,2400,1500,1280,760,480,130],[1.45,2100,1240,1000,580,260],[1.47,3600,2030,1220,840,420,100],[1.49,2600,1480,1020,640,340,150,40],[1.52,2950,1520,1100,720,280,60],[1.56,2980,2100,1300,800,340],[1.6,2850,2250,860,480,120],[1.64,3580,2700,2150,1240,760,300,60],[1.66,4800,2000,1600,1160,560,220,30],[1.69,3380,2650,1900,1250,880,440,120],[1.72,3550,2600,1550,1020,680,320,200,40],[1.75,2750,2150,1250,760,480,180,60],[1.78,3420,1850,1500,900,520,260],[1.81,2000,1240,780,400,120,30],[1.85,2580,1980,1000,600,280],[1.88,3550,2050,1540,860,380,90],[1.92,3200,2820,1420,1120,500,160],[1.96,3990,2560,1520,780,320,60],[1.99,4320,3150,2500,900,440,200],[2.03,4200,2900,1880,1250,600,300,40],[2.06,5770,3900,2860,1980,1040,700,160],[2.09,4150,2350,1420,920,480,220],[2.13,3260,2950,1780,1300,660,360,60],[2.17,3200,2550,1980,1100,560,120],[2.22,4150,3250,2380,1540,840,420],[2.27,2850,2620,2040,1500,1000,620,240,20],[2.31,4300,3830,2400,1580,860,380],[2.35,3400,3080,2880,1930,1400,700,220],[2.39,2640,2060,1620,1060,540,300,40],[2.43,3000,2150,1800,1100,720,160],[2.47,3380,3950,2060,1760,1080,440],[2.5,2500,1800,1680,900,520,220,60],[2.54,3650,3260,2840,2190,1700,940,300],[2.58,5850,4130,3900,2520,1830,1230,460,100],[2.62,5380,4910,3650,2200,1500,820,320],[2.65,2780,1920,1660,1100,760,240,50],[2.69,4950,3250,2650,1570,1200,540,140],[2.73,4500,3780,2460,1650,1040,640,280],[2.77,2400,2000,1720,880,460,60],[2.82,1430,1080,700,400,160],[2.86,1700,940,580,260,40],[2.9,820,640,340,120],[2.94,880,440,170,50],[3,1080,540,260,100,20],[3.03,3380,680,320,90],[3.06,1900,940,420,150,30],[3.1,1800,860,600,200,60],[3.14,1470,800,300,120,10],[3.18,2400,760,240,80],[3.22,660,260,110,30],[3.27,360,120,40],[3.36,280,120],[3.42,440,180,60],[3.47,1180,500,200,30],[3.5,1050,820,400,120],[3.55,1020,600,280,70],[3.6,1800,1240,360,180],[3.63,2780,2260,420,240,50],[3.66,4650,4280,3100,2700,1140,600,340],[3.68,5180,2820,1850,1030,440,180],[3.71,5470,4000,3300,2420,1720,480,260],[3.74,4840,3820,3200,2580,1620,960,380,90],[3.76,5240,3640,2900,1950,1450,700,540],[3.79,3500,2230,1650,1210,800,340,160],[3.83,3430,2700,1640,1090,670,420,70],[3.86,3850,3260,2080,1360,950,500],[3.9,3150,2700,1910,1230,760,330,100],[3.94,3950,2950,2550,1480,830,560,200],[3.97,3530,2610,1240,980,700,300],[4.01,3060,2200,1800,1400,820,240],[4.05,2760,1610,1440,1260,500,130],[4.08,2740,1800,1370,600,160],[4.12,2640,1400,820,420],[4.18,3600,880,700],[4.24,1040,240],[4.3,520,70],[4.4,3700,1470],[4.42,1800,40],[4.47,2050,1950,1580,1420,1180],[4.5,4320,3400,2360,1550,1000,360,160],[4.54,2100,1500,1060,420,240,60],[4.58,700,440,200,30],[4.62,3600,1810,1160,680,140],[4.66,3240,1800,780,540],[4.69,5590,3800,3140,2380,1840,540,280],[4.72,5120,2400,1980,1760,440,90],[4.75,3050,1800,980,540],[4.8,2010,1160,500,240],[4.85,3880,1280,860],[4.92,4220,2600,1960,1680,850,520],[4.96,60],[5.03,1000,120,40],[5.08,100,40],[5.15,1120,560,480],[5.22,2700],[5.27,850,600],[5.4,1560,260],[5.45,120,40],[5.51,2640,1100,1000],[5.54,1900,620,180,100],[5.57,2440,1180,560,300,80,30],[5.6,5330,5180,2000,1500,1120,620,140],[5.63,3770,3350,3000,2000,940,340,60],[5.66,3900,2520,1800,1060,760,240],[5.7,3640,3000,1200,600,380],[5.74,4500,3950,2050,1100,800],[5.78,5640,2280,1580,740,500],[5.83,3900,3660,2050,1200,560],[5.88,2900,2280,640,200],[5.92,3730,2850,1320,980],[5.97,5640,2500,2250,1870,1060],[6.02,3450,2240,1450,800,280],[6.05,4280,3250,3100,820,130],[6.08,5000,3680,2900,1240,400,40],[6.11,3720,2530,2030,1150,740],[6.14,4170,3460,2800,2250,1600,900,120]];
// extra passes in the packed band along the bottom
const fullSinceDense = [[.02,780,520,300,150,50],[.04,700,440,240,100],[.06,680,360,180,70,20],[.08,620,280,130,30],[.1,420,260,160,60],[.12,380,200,90],[.14,340,120,40],[.16,220,90,30],[.18,160,60],[.2,100,50],[.7,1050,620,440,180,60],[.73,940,520,280,100],[.75,860,400,180,30],[.78,780,580,300,120],[.8,1100,660,340,70,20],[.83,860,560,280,140],[.85,980,600,400,200,50],[.88,1040,620,300,90],[.91,880,500,260,130],[.94,740,440,200,70],[.97,820,640,360,180,40],[1,960,580,300,100],[1.03,800,480,220,60],[1.06,1060,560,340,120],[1.09,920,640,260,100],[1.12,1180,700,440,180,50],[1.15,1120,620,300,110],[1.18,860,500,260,70],[1.21,1000,600,360,160,30],[1.24,920,540,240,100],[1.27,1100,680,420,160],[1.31,840,600,280,90],[1.34,980,480,220,110,30],[1.37,760,520,320,60],[1.4,920,560,240,130],[1.43,1100,640,360,50],[1.46,880,500,200,100],[1.5,800,500,240,70],[1.53,900,460,200,90],[1.57,620,340,180,40],[1.62,680,320,160,60],[1.65,1000,600,340,160,60],[1.67,1300,840,480,280,100,40],[1.7,1180,780,540,340,180,60],[1.73,1250,900,620,380,120,30],[1.76,1090,780,560,300,150,50],[1.79,1180,680,420,220,80],[1.82,1000,640,340,160],[1.86,860,520,280,90,30],[1.89,1060,740,420,200,60],[1.93,880,600,340,140,30],[1.97,1140,640,420,180,70],[2,960,540,300,120,40],[2.04,1100,720,400,220,80],[2.08,900,580,320,100],[2.11,1060,660,380,160,50],[2.15,860,500,260,120],[2.19,1000,600,340,90],[2.23,720,440,200,60],[2.26,980,560,280,130],[2.29,820,480,240,90],[2.33,1120,660,340,140,40],[2.37,880,540,200,100],[2.41,780,440,260,60],[2.45,640,380,180,70],[2.48,920,520,240,90],[2.52,700,420,160,40],[2.56,820,460,260,110],[2.6,1020,560,300,130],[2.64,900,440,200,80],[2.67,1100,640,340,110,30],[2.7,840,460,220,70],[2.75,940,560,300,100],[2.79,780,420,180,60],[2.84,680,300,140,50],[2.88,720,400,220,70],[2.92,500,260,120,30],[2.97,320,180,60],[3,380,140,60],[3.04,220,110,40],[3.08,260,130,70],[3.12,180,70,20],[3.16,320,160,60],[3.2,230,110],[3.25,200,70],[3.3,160,60],[3.65,500,300,160,60],[3.67,380,220,80],[3.7,720,400,200,100],[3.73,840,520,320,140],[3.75,700,460,240,60],[3.78,860,520,300,100],[3.81,640,480,200,40],[3.85,780,440,240,120],[3.88,620,360,160],[3.92,720,480,200],[5.58,360,200,100],[5.61,300,160,60],[5.64,260,120],[5.68,460,200,90]];
const fullSinceOver = [1.51, 2.35, 3.76, 4.94, 5.76, 6.06];

const svg = d3.select("svg");

const blue = "#1526dd", green = "#05dc22", red = "#b1120e";
const gridRows = [5.5, 432, 859];
const gridCols = [8, 496, 983, 1469.5, 1957.5];

// the borders of the table around the pictures
const border = svg.append("g").attr("stroke", "#000").attr("stroke-width", 2);
gridRows.forEach(y => {
  border.append("line").attr("x1", 7).attr("x2", 1958.5).attr("y1", y).attr("y2", y);
});
gridCols.forEach((x, i) => {
  border.append("line").attr("x1", x).attr("x2", x).attr("y1", 4.5).attr("y2", i < 3 ? 1286 : 859);
});

const flat = rows => rows.flatMap(([x, ...ys]) => ys.map(y => [x, y]));
const level = (xs, y) => xs.map(x => [x, y]);

const panels = [
  { col: 0, row: 0, title: ["RMS (past year)"], sub: "pass average LAGEOS normal point rms", stats: "ave 9.19 st_dev 1.64 max 21.90 min 0.80 for 180 data points", unit: "mm", stamp: "2006/096 10:24",
    past: true, domain: [0, 25], ticks: [0, 5, 10, 15, 20, 25], color: blue, pts: flat(rmsPast) },
  { col: 1, row: 0, title: ["RMS (since 2000)"], sub: "pass average LAGEOS normal point rms", stats: "ave 9.90 st_dev 3.62 max 110.22 min 0.00 for 1061 data points", unit: "mm", stamp: "2006/096 13:37",
    past: false, domain: [0, 25], ticks: [0, 5, 10, 15, 20, 25], color: blue, pts: [...flat(rmsSince), ...flat(rmsSinceCloud)], over: rmsSinceOver },
  { col: 2, row: 0, title: ["Calibration RMS (past year)"], sub: "pass LAGEOS calibration rms", stats: "ave 4.88 st_dev 0.40 max 6.45 min 4.20 for 180 data points", unit: "mm", stamp: "2006/096 10:24",
    past: true, domain: [0, 7], ticks: [0, 1.4, 2.8, 4.2, 5.6, 7], fmt: ".1f", color: green, pts: flat(calPast) },
  { col: 3, row: 0, title: ["Calibration RMS (since 2000)"], sub: "pass LAGEOS calibration rms", stats: "ave 5.34 st_dev 1.96 max 17.24 min 3.60 for 1061 data points", unit: "mm", stamp: "2006/096 13:37",
    past: false, domain: [0, 20], ticks: [0, 4, 8, 12, 16, 20], color: green, pts: [...flat(calSince), ...flat(calSinceBand)] },
  { col: 0, row: 1, title: ["System Delay (past year)"], sub: "pass LAGEOS system delay", stats: "ave 48.70 st_dev 0.01 max 48.74 min 48.63 for 180 data points", unit: "nanosec", stamp: "2006/096 10:24",
    past: true, domain: [30, 50], ticks: [32, 36, 40, 44, 48], color: red, r: 1.35, pts: level(sysDelayPastX, sysDelayPastLevel) },
  { col: 1, row: 1, title: ["System Delay"], sub: "pass LAGEOS system delay", stats: "ave 53.56 st_dev 5.27 max 80.64 min 46.55 for 1061 data points", unit: "nanosec", stamp: "2006/096 13:37",
    past: false, domain: [20, 80], ticks: [24, 36, 48, 60, 72], color: red,
    pts: [...level(sysDelayHighX, sysDelayHighLevel), ...level(sysDelayMidX, sysDelayMidLevel), ...level(sysDelayLowX, sysDelayLowLevel), ...sysDelayOutliers], over: sysDelayOver },
  { col: 2, row: 1, title: ["Observations per Normal Point", "(past year)"], sub: "pass average number LAGEOS obs in a normal point", stats: "ave 124.23 st_dev 89.70 max 405.30 min 1.60 for 180 data points", unit: "obs/npt", stamp: "2006/096 10:25",
    past: true, domain: [0, 490], ticks: [0, 98, 196, 294, 392, 490], color: green, pts: flat(obsPast) },
  { col: 3, row: 1, title: ["Observations per Normal Point", "(since 2000)"], sub: "pass average number LAGEOS obs in a normal point", stats: "ave 90.17 st_dev 70.77 max 405.30 min 1.60 for 1061 data points", unit: "obs/npt", stamp: "2006/096 13:38",
    past: false, domain: [0, 380], ticks: [0, 76, 152, 228, 304, 380], color: green, pts: [...flat(obsSince), ...flat(obsSinceDense)] },
  { col: 0, row: 2, title: ["Full-Rate Observations per Pass", "(past year)"], sub: "pass number of LAGEOS full rate obs", stats: "ave 1591.60 st_dev 1505.87 max 8223.00 min 6.00 for 180 data points", stamp: "2006/096 10:25",
    past: true, domain: [0, 7620], ticks: [0, 1524, 3048, 4572, 6096, 7620], color: blue, pts: flat(fullPast), over: fullPastOver },
  { col: 1, row: 2, title: ["Full-Rate Observations per Pass", "(since 2000)"], sub: "pass number of LAGEOS full rate obs", stats: "ave 1136.37 st_dev 1212.23 max 8223.00 min 4.00 for 1061 data points", stamp: "2006/096 13:38",
    past: false, domain: [0, 5990], ticks: [0, 1198, 2396, 3594, 4792, 5990], color: blue, pts: [...flat(fullSince), ...flat(fullSinceDense)], over: fullSinceOver }
];

// left edge of each plot, and top/bottom per table row
const plotLeft = [[78.3, 565, 1052.7, 1539], [78.3, 565, 1052.7, 1539], [78.3, 565]];
const plotTop = [142, 568.7, 996.3];
const plotH = 245;
const plotW = 356;
const titleBase = [[57], [484], [892.7]];

panels.forEach(p => {
  const cx = (gridCols[p.col] + gridCols[p.col + 1]) / 2;
  const titleYs = p.title.length === 2 ? (p.row === 1 ? [465.7, 501.7] : [892.7, 930]) : titleBase[p.row];
  p.title.forEach((t, i) => {
    svg.append("text").attr("class", "title").attr("x", cx).attr("y", titleYs[i]).text(t);
  });

  const left = plotLeft[p.row][p.col];
  const top = plotTop[p.row];
  const g = svg.append("g").attr("class", "plot").attr("transform", `translate(${left},${top})`);

  const x = d3.scaleLinear().domain(p.past ? [2005.25, 2006.25] : [2000, 2006.25]).range([0, plotW]);
  const y = d3.scaleLinear().domain(p.domain).range([plotH, 0]);

  // grid comes from the axes themselves
  const xAxis = d3.axisBottom(x).tickValues(p.past ? pastYearTicks : sinceTicks)
    .tickFormat(d3.format(p.past ? ".2f" : ".1f")).tickSize(-plotH).tickPadding(5);
  const yAxis = d3.axisLeft(y).tickValues(p.ticks).tickFormat(d3.format(p.fmt || "d")).tickSize(-plotW).tickPadding(4);

  const gx = g.append("g").attr("class", "grid").attr("transform", `translate(0,${plotH})`).call(xAxis);
  const gy = g.append("g").attr("class", "grid").call(yAxis);
  g.append("g").attr("class", "grid").append("rect").attr("width", plotW).attr("height", plotH);
  [gx, gy].forEach(a => a.selectAll("text").attr("fill", "#333").attr("font-size", 8.5).attr("font-weight", "bold"));

  g.selectAll("circle.pt").data(p.pts).join("circle").attr("class", "pt")
    .attr("cx", d => x((p.past ? pastBase : sinceBase) + d[0]))
    .attr("cy", d => y(d[1]))
    .attr("r", p.r || 1.8)
    .attr("fill", p.color);

  // values above the axis sit on the top edge in green
  g.selectAll("circle.over").data(p.over || []).join("circle").attr("class", "over")
    .attr("cx", d => x((p.past ? pastBase : sinceBase) + d))
    .attr("cy", y(p.domain[1]))
    .attr("r", 1.7)
    .attr("fill", green);

  const mid = plotW / 2;
  g.append("text").attr("x", mid).attr("y", -33).attr("text-anchor", "middle")
    .attr("font-size", 14.5).attr("font-weight", "bold").attr("fill", "#2e7a36")
    .style("font-family", "'Liberation Serif', serif").text("Greenbelt, Maryland 7105");
  g.append("text").attr("x", mid).attr("y", -18.5).attr("text-anchor", "middle")
    .attr("font-size", 10.4).attr("font-weight", "bold").attr("fill", "#6b1c1c").text(p.sub);
  g.append("text").attr("x", mid).attr("y", -6.5).attr("text-anchor", "middle")
    .attr("font-size", 6.8).attr("font-weight", "bold").attr("fill", "#111").text(p.stats);
  g.append("text").attr("x", mid).attr("y", plotH + 27).attr("text-anchor", "middle")
    .attr("font-size", 9.5).attr("font-weight", "bold").attr("fill", "#333").text("year");
  g.append("text").attr("x", plotW + 16).attr("y", plotH + 28).attr("text-anchor", "end")
    .attr("font-size", 4).attr("font-weight", "bold").attr("fill", "#333").text(p.stamp);
  if (p.unit) {
    const ux = p.unit === "obs/npt" ? -30 : (p.col === 2 ? -28 : -25);
    g.append("text").attr("transform", `translate(${ux},${plotH / 2 - 2}) rotate(-90)`).attr("text-anchor", "middle")
      .attr("font-size", 9).attr("font-weight", "bold").attr("fill", "#444").text(p.unit);
  }
});
</script>
</body>
</html>
